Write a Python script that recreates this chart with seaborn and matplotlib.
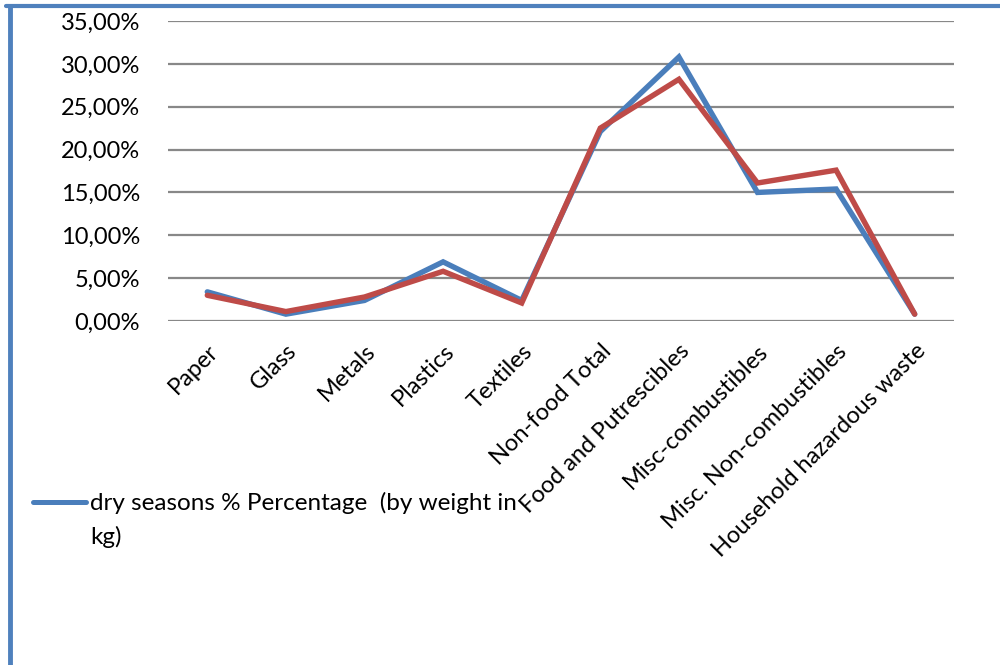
import matplotlib
matplotlib.use("Agg")
import matplotlib.pyplot as plt
import seaborn as sns
import pandas as pd
from matplotlib.lines import Line2D
from matplotlib.ticker import FuncFormatter

categories = ["Paper", "Glass", "Metals", "Plastics", "Textiles", "Non-food Total",
              "Food and Putrescibles", "Misc-combustibles", "Misc. Non-combustibles",
              "Household hazardous waste"]
dry_values = [3.4, 0.8, 2.4, 6.9, 2.4, 22.1, 30.8, 15.0, 15.4, 0.8]
wet_values = [3.0, 1.1, 2.8, 5.8, 2.1, 22.5, 28.2, 16.1, 17.6, 0.8]
dry_label = "dry seasons % Percentage  (by weight in\nkg)"
wet_label = "wet seasons % Percentage  (by weight in kg)"
yticks = [0, 5, 10, 15, 20, 25, 30, 35]

df = pd.DataFrame({
    "category": categories * 2,
    "value": dry_values + wet_values,
    "series": [dry_label] * len(categories) + [wet_label] * len(categories),
})
df["pos"] = list(range(len(categories))) * 2

sns.set_theme(style="white")
plt.rcParams["font.family"] = ["Lato", "DejaVu Sans"]
plt.rcParams["text.color"] = "black"

fig = plt.figure(figsize=(10, 6.65), dpi=100)
ax = fig.add_axes([0.168, 1 - 321 / 665, 0.954 - 0.168, (321 - 21) / 665])

blue = "#4A7EBB"
red = "#BE4B48"
sns.lineplot(data=df, x="pos", y="value", hue="series", palette=[blue, red],
             linewidth=3.9, ax=ax, legend=False, sort=False,
             solid_capstyle="round", solid_joinstyle="miter")

ax.set_xlim(-0.5, len(categories) - 0.5)
ax.set_ylim(0, 35)
ax.set_yticks(yticks)
ax.yaxis.set_major_formatter(FuncFormatter(lambda v, p: f"{v:.2f}".replace(".", ",") + "%"))
ax.set_xticks(range(len(categories)))
ax.set_xticklabels(categories, rotation=45, ha="right", rotation_mode="anchor")
ax.tick_params(axis="both", length=0, labelsize=17, colors="black")
ax.tick_params(axis="y", pad=20)
ax.tick_params(axis="x", pad=14)
ax.set_xlabel("")
ax.set_ylabel("")
ax.grid(axis="y", color="#888888", linewidth=1.6)
ax.set_axisbelow(True)
for s in ax.spines.values():
    s.set_visible(False)

handle = Line2D([], [], color=blue, linewidth=3.6, solid_capstyle="round")
leg = fig.legend([handle], [dry_label], loc="upper left",
                 bbox_to_anchor=(0.033, 1 - 492 / 665), frameon=False, fontsize=17.5,
                 handlelength=2.2, handletextpad=0.15, borderaxespad=0, borderpad=0,
                 labelcolor="black")
leg.get_texts()[0].set_linespacing(1.65)
lh = leg.legend_handles[0]
yd = lh.get_ydata()
lh.set_ydata([v + 13 for v in yd])

border = "#4F81BD"
fig.add_artist(Line2D([0.006, 1.0], [1 - 6 / 665, 1 - 6 / 665], color=border,
                      linewidth=3, transform=fig.transFigure))
fig.add_artist(Line2D([0.010, 0.010], [0, 1 - 6 / 665], color=border,
                      linewidth=3.5, transform=fig.transFigure))

fig.savefig("out.png", dpi=100)
